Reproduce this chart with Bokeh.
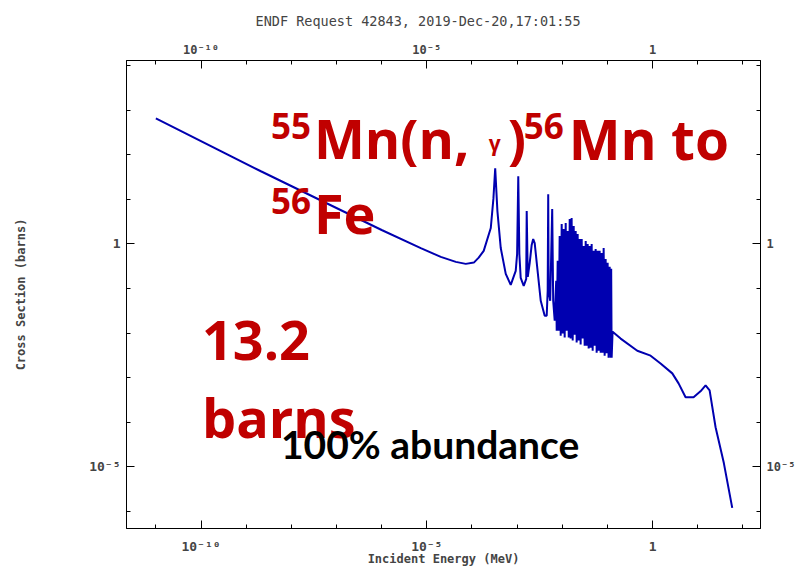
from bokeh.plotting import figure
from bokeh.models import LogAxis, FixedTicker, Label, ColumnDataSource, Range1d
from bokeh.embed import file_html
from bokeh.resources import INLINE

# ---- data (incident energy in MeV, cross section in barns)
energy_mev = [
    1.0e-11, 2.12e-9, 1.0e-6, 7.36e-6, 2.04e-5, 4.39e-5, 7.3e-5, 1.10e-4, 1.41e-4,
    1.82e-4, 2.61e-4, 2.99e-4, 3.27e-4, 3.66e-4, 4.34e-4, 5.60e-4, 7.22e-4,
    9.31e-4, 1.00e-3, 1.06e-3, 1.12e-3, 1.20e-3, 1.40e-3,
    1.59e-3, 1.63e-3, 1.72e-3,
    1.90e-3, 2.10e-3, 2.27e-3, 2.45e-3, 2.72e-3, 3.33e-3, 4.08e-3, 4.52e-3,
    4.75e-3, 4.88e-3, 5.0e-3, 5.40e-3, 5.98e-3, 6.29e-3, 6.79e-3, 7.33e-3,
    7.52e-3, 7.91e-3, 8.32e-3, 8.75e-3, 9.22e-3, 9.70e-3, 1.02e-2, 1.07e-2,
    1.13e-2, 1.19e-2, 1.25e-2, 1.32e-2, 1.39e-2, 1.46e-2, 1.53e-2, 1.61e-2,
    1.70e-2, 1.79e-2, 1.88e-2, 1.98e-2, 2.08e-2, 2.19e-2, 2.31e-2, 2.43e-2,
    2.55e-2, 2.69e-2, 2.83e-2, 2.97e-2, 3.13e-2, 3.30e-2, 3.47e-2, 3.65e-2,
    3.84e-2, 4.04e-2, 4.25e-2, 4.47e-2, 4.71e-2, 4.95e-2, 5.21e-2, 5.48e-2,
    5.77e-2, 6.07e-2, 6.39e-2, 6.72e-2, 7.08e-2, 7.45e-2, 7.83e-2, 8.24e-2,
    8.67e-2, 9.12e-2, 9.60e-2, 0.101, 0.106, 0.112, 0.118, 0.121, 0.124,
    0.130, 0.196, 0.458, 0.903, 1.50, 2.73, 3.76, 5.37, 8.07, 11.5, 14.9,
    18.3, 24.8, 37.8, 58.0,
]
cross_section_b = [
    660, 43.0, 2.06, 0.81, 0.512, 0.396, 0.357, 0.382, 0.494,
    0.70, 2.28, 10.7, 50.1, 5.47, 0.81, 0.213, 0.121,
    0.249, 0.60, 33.2, 0.60, 0.173, 0.115,
    0.165, 5.47, 0.183,
    0.376, 0.95, 1.29, 1.05, 0.376, 0.053, 0.0245, 0.0245,
    0.089, 13.1, 0.089, 0.053, 6.07, 0.053, 0.0189, 0.149,
    0.0113, 0.42, 0.0113, 1.51, 0.0087, 2.80, 0.0097, 2.17,
    0.0079, 2.95, 0.0113, 1.95, 0.0079, 3.62, 0.0075, 3.82,
    0.0068, 2.53, 0.0092, 1.95, 0.0061, 1.67, 0.0068, 1.29,
    0.0055, 1.29, 0.0075, 0.90, 0.0052, 1.17, 0.0052, 1.0,
    0.0045, 0.90, 0.0047, 1.0, 0.0040, 0.70, 0.0052, 0.77,
    0.0036, 0.70, 0.0040, 0.70, 0.0036, 0.63, 0.0036, 0.81,
    0.0031, 0.46, 0.0035, 0.376, 0.0028, 0.306, 0.0028, 0.276, 0.0028,
    0.0107, 0.0075, 0.0040, 0.0031, 0.00207, 0.00124, 0.00074, 0.00036, 0.00036, 0.00049, 0.000666,
    0.000514, 7.65e-5, 1.2e-5, 1.18e-6,
]

x_major = [1e-10, 1e-5, 1.0]
x_minor = [10.0 ** k for k in range(-11, 3)]
x_labels = {1e-10: "10\u207b\u00b9\u2070", 1e-5: "10\u207b\u2075", 1.0: "1"}
y_major = [1e-5, 1.0]
y_minor = [10.0 ** k for k in range(-6, 5)]
y_labels = {1e-5: "10\u207b\u2075", 1.0: "1"}

title_text = "ENDF Request 42843, 2019-Dec-20,17:01:55"
x_title = "Incident Energy (MeV)"
y_title = "Cross Section (barns)"

RED = "#c00000"
MONO = "DejaVu Sans Mono"

p = figure(width=798, height=569, x_axis_type="log", y_axis_type="log",
           x_range=Range1d(2.24e-12, 245.0), y_range=Range1d(4.07e-7, 1.32e4),
           output_backend="svg", toolbar_location=None, title=title_text,
           min_border_left=126, min_border_right=38, min_border_top=60,
           min_border_bottom=41)
p.title.align = "left"
p.title.offset = 129
p.title.standoff = 21
p.title.text_font = MONO
p.title.text_font_size = "13.5px"
p.title.text_font_style = "normal"
p.xgrid.visible = False
p.ygrid.visible = False
p.outline_line_color = "black"
p.background_fill_color = "white"
p.border_fill_color = "white"

bottom_ax = p.below[0]
left_ax = p.left[0]

src = ColumnDataSource(dict(e=energy_mev, s=cross_section_b))
p.line("e", "s", source=src, line_color="#0000b0", line_width=2)

top_ax = LogAxis()
right_ax = LogAxis()
p.add_layout(top_ax, "above")
p.add_layout(right_ax, "right")

for ax, major, minor, labels, fsize in [
    (bottom_ax, x_major, x_minor, x_labels, "13px"),
    (top_ax, x_major, x_minor, x_labels, "12px"),
    (left_ax, y_major, y_minor, y_labels, "13px"),
    (right_ax, y_major, y_minor, y_labels, "12px"),
]:
    ax.ticker = FixedTicker(ticks=major, minor_ticks=minor)
    ax.major_label_overrides = labels
    ax.major_tick_in = 8
    ax.major_tick_out = 0
    ax.minor_tick_in = 4
    ax.minor_tick_out = 0
    ax.axis_line_color = "black"
    ax.major_tick_line_color = "black"
    ax.minor_tick_line_color = "black"
    ax.major_label_text_font = MONO
    ax.major_label_text_font_size = fsize
    ax.major_label_text_font_style = "bold"
    ax.major_label_standoff = 6

top_ax.major_label_standoff = 4
bottom_ax.major_label_standoff = 10
bottom_ax.axis_label = x_title
left_ax.axis_label = y_title
for ax in (bottom_ax, left_ax):
    ax.axis_label_text_font = MONO
    ax.axis_label_text_font_size = "12px"
    ax.axis_label_text_font_style = "bold"
bottom_ax.axis_label_standoff = -5
left_ax.axis_label_standoff = 58

# ---- overlay annotations
def lab(x, y, text, size, color=RED, font="Open Sans"):
    p.add_layout(Label(x=x, y=y, text=text, text_font=font, text_font_style="bold",
                       text_font_size=size, text_color=color, text_align="left",
                       text_baseline="alphabetic"))

lab(3.54e-9, 436, "55", "35px")
lab(3.16e-8, 235, "Mn(n,", "54px")
lab(2.36e-4, 190, "\u03b3", "21px")
lab(6.19e-4, 235, ")", "54px")
lab(1.40e-3, 436, "56", "35px")
lab(1.39e-2, 235, "Mn to", "55px")
lab(3.54e-9, 9.16, "56", "35px")
lab(3.16e-8, 4.94, "Fe", "54px")
lab(1.05e-10, 6.76e-3, "13.2", "54px")
lab(1.05e-10, 1.28e-4, "barns", "54px")
lab(5.89e-9, 3.25e-5, "100% abundance", "39px", color="black", font="Lato")

open("out.html", "w").write(file_html(p, INLINE))
